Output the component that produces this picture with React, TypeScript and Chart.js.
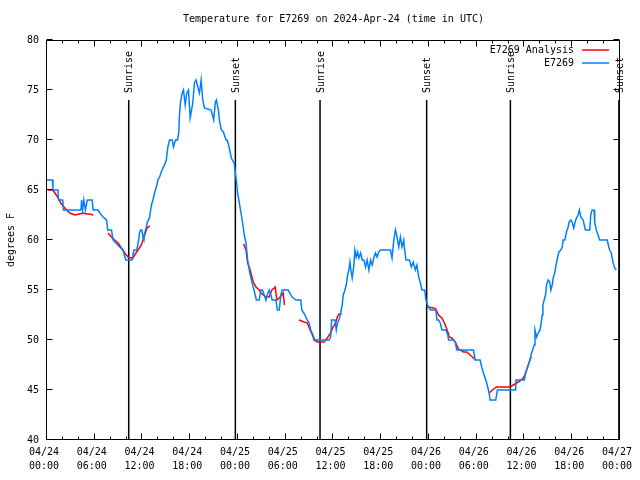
import { useEffect, useRef } from 'react';
import { Chart, registerables } from 'chart.js';

Chart.register(...registerables);

const TITLE = 'Temperature for E7269 on 2024-Apr-24 (time in UTC)';
const Y_TITLE = 'degrees F';
const SERIES_ANALYSIS = 'E7269 Analysis';
const SERIES_OBS = 'E7269';

// hours since 04/24 00:00 UTC
const hourTicks = [0, 6, 12, 18, 24, 30, 36, 42, 48, 54, 60, 66, 72];
const tickDates = ['04/24', '04/24', '04/24', '04/24', '04/25', '04/25', '04/25', '04/25', '04/26', '04/26', '04/26', '04/26', '04/27'];
const tickTimes = ['00:00', '06:00', '12:00', '18:00', '00:00', '06:00', '12:00', '18:00', '00:00', '06:00', '12:00', '18:00', '00:00'];
const tempTicks = [40, 45, 50, 55, 60, 65, 70, 75, 80];

const sunHours = [10.27, 23.67, 34.31, 47.71, 58.23, 71.87];
const sunLabels = ['Sunrise', 'Sunset', 'Sunrise', 'Sunset', 'Sunrise', 'Sunset'];

const blueHours = [
  0.0, 0.71, 0.75, 1.38, 1.44, 1.97, 2.07, 4.26, 4.35, 4.47, 4.63, 4.82, 5.07, 5.67, 5.8, 6.42, 6.64, 7.05, 7.48, 7.64,
  8.1, 8.3, 8.89, 9.14, 9.55, 9.89, 10.68, 10.93, 11.27, 11.36, 11.52, 11.65, 11.77, 11.93, 12.06, 12.18, 12.27, 12.4, 12.61, 12.77,
  12.9, 13.02, 13.19, 13.31, 13.52, 13.74, 13.94, 14.15, 14.36, 14.56, 14.78, 14.99, 15.19, 15.4, 15.74, 15.9, 16.15, 16.4, 16.57, 16.63,
  16.78, 16.99, 17.15, 17.37, 17.57, 17.78, 17.99, 18.32, 18.53, 18.74, 18.95, 19.16, 19.37, 19.57, 19.78, 20.62, 20.95, 21.16, 21.29, 21.54,
  21.66, 21.91, 22.16, 22.5, 22.66, 22.91, 23.13, 23.29, 23.54, 23.67, 23.83, 23.95, 24.17, 24.38, 24.58, 24.79, 25.01, 25.21, 25.42, 25.63,
  25.92, 26.26, 26.3, 26.67, 26.88, 27.08, 27.3, 27.51, 27.67, 27.92, 28.14, 28.3, 28.76, 28.96, 29.18, 29.39, 29.55, 30.3, 30.8, 31.27,
  31.89, 32.02, 32.43, 32.68, 32.93, 33.14, 33.31, 33.65, 35.44, 35.65, 35.77, 36.19, 36.35, 36.5, 36.69, 36.9, 37.1, 37.23, 37.44, 37.6,
  37.78, 37.94, 38.07, 38.19, 38.35, 38.57, 38.69, 38.86, 39.03, 39.19, 39.41, 39.61, 39.82, 40.03, 40.23, 40.45, 40.66, 40.86, 41.07, 41.28,
  41.48, 41.7, 41.91, 43.16, 43.36, 43.58, 43.79, 43.99, 44.2, 44.41, 44.62, 44.83, 44.95, 45.12, 45.54, 45.79, 46.02, 46.29, 46.49, 46.71,
  46.92, 47.12, 47.46, 47.62, 47.83, 48.17, 48.87, 49.0, 49.21, 49.42, 49.62, 50.12, 50.37, 50.46, 51.09, 51.3, 51.5, 53.59, 53.81, 54.43,
  54.63, 54.85, 55.06, 55.26, 55.47, 55.6, 55.68, 56.39, 56.6, 58.89, 58.94, 59.98, 60.14, 60.27, 60.48, 60.69, 60.82, 61.02, 61.23, 61.32,
  61.52, 61.73, 61.95, 62.07, 62.23, 62.32, 62.48, 62.65, 62.77, 62.98, 63.17, 63.32, 63.49, 63.61, 63.82, 64.02, 64.15, 64.32, 64.57, 64.74,
  64.86, 65.08, 65.28, 65.49, 65.61, 65.83, 65.99, 66.2, 66.37, 66.53, 66.74, 66.9, 67.08, 67.37, 67.66, 68.21, 68.33, 68.49, 68.74, 68.83,
  69.03, 69.25, 69.46, 70.41, 70.59, 70.71, 70.91, 71.12, 71.34, 71.54,
];
const blueTemps = [
  66, 66, 65, 65, 64, 64, 63, 63, 64, 63, 64, 63, 64, 64, 63, 63, 62.7, 62.3, 62, 61,
  61, 60, 59.5, 59.3, 59, 58, 58, 59, 59, 59.3, 60, 60.8, 61, 61, 60.3, 60, 60.7, 61, 61.8, 62,
  62.3, 63, 63.7, 64, 64.7, 65.3, 66, 66.3, 66.8, 67.2, 67.5, 68, 69.3, 70, 70, 69.3, 70, 70, 70.8, 72.3,
  73.8, 74.7, 75, 73.5, 74.7, 75, 72.2, 73.7, 75.7, 76, 75.3, 74.7, 76, 74, 73.2, 73, 72, 73.8, 74, 73,
  72, 71, 70.8, 70, 70, 69.2, 68.3, 68, 67.6, 66.7, 65.7, 64.7, 63.7, 62.7, 61.7, 60.5, 59.7, 58, 57, 56.2,
  55.3, 54.2, 54, 54, 55, 55, 54.5, 54, 54.5, 55, 54.5, 54, 54, 53, 53, 54.5, 55, 55, 54.3, 54,
  54, 53, 52.5, 52, 51.7, 51, 50.7, 50, 50, 50.3, 52, 52, 51, 51.7, 52, 52.7, 53.5, 54.5, 55, 55.5,
  56.5, 57, 57.8, 57, 56.2, 57.5, 59, 58.3, 58.8, 58.2, 58.7, 58, 58, 57.3, 58, 57, 58, 57.5, 58.2, 58.7,
  58.3, 58.8, 59, 59, 58.2, 60, 61, 60.3, 59.3, 60.3, 59.3, 60, 59, 58, 58, 57.3, 57.8, 57, 57.5, 56.3,
  55.7, 55, 55, 54, 53.5, 53, 53, 52, 52, 51.7, 51, 51, 50.5, 50, 50, 49.8, 49, 49, 48, 48,
  47.3, 46.7, 46.2, 45.7, 45, 44.5, 44, 44, 45, 45, 46, 46, 46.7, 47, 47.5, 48, 48.5, 49, 49.5, 51,
  50.3, 50.7, 51, 51.5, 52.5, 53.5, 54, 54.5, 55.5, 56, 55.8, 55, 55.5, 56.2, 56.8, 57.7, 58.2, 58.8, 59, 59.3,
  60, 60, 60.8, 61.3, 61.8, 62, 61.8, 61.2, 61.8, 62.2, 62.5, 63, 62.3, 62, 61, 61, 62.5, 63, 63, 61.7,
  61, 60.5, 60, 60, 59.3, 59, 58.7, 57.8, 57.2, 57,
];

// null entries mark gaps in the analysis series
const redHours = [
  0.13, 0.71, 1.0, 1.41, 1.72, 2.13, 2.47, 2.88, 3.51, 4.04, 4.55, 4.97, 5.38, 5.8, 6.7,
  7.68, 8.1, 8.51, 8.93, 9.35, 9.77, 10.18, 10.61, 10.81, 11.02, 11.43, 11.86, 12.06, 12.27, 12.48, 12.68, 12.9, 18.0,
  24.71, 25.01, 25.21, 25.42, 25.63, 25.92, 26.26, 26.67, 26.88, 27.51, 27.92, 28.26, 28.55, 28.67, 28.89, 29.18, 29.51, 29.68, 29.84, 30.8,
  31.68, 32.31, 32.72, 33.06, 33.35, 33.56, 33.97, 34.81, 35.22, 35.65, 35.94, 36.28, 36.48, 36.69, 37.03, 42.0,
  47.75, 48.58, 48.87, 49.21, 49.62, 50.05, 50.37, 50.55, 50.88, 51.3, 51.71, 52.34, 52.75, 53.18, 53.59, 53.88, 54.7,
  55.56, 55.97, 56.51, 57.56, 58.19, 58.6, 59.01, 59.44, 59.85, 60.07, 60.27, 60.48, 60.69, 60.86,
];
const redTemps = [
  65, 65, 64.7, 64.2, 63.7, 63.3, 63, 62.7, 62.5, 62.6, 62.7, 62.6, 62.6, 62.5, null,
  60.7, 60.3, 60, 59.7, 59.2, 58.7, 58.3, 58.2, 58.2, 58.5, 59, 59.5, 60, 60.5, 61, 61.3, 61.4, null,
  59.6, 59, 57.7, 57.3, 56.7, 55.8, 55.3, 55, 54.7, 54.3, 54.3, 55, 55.2, 55.3, 54, 54.2, 54.5, 54.7, 53.5, null,
  52, 51.8, 51.7, 51, 50.5, 50, 49.8, 49.8, 50.2, 50.7, 51.3, 51.7, 52.3, 52.6, 52.6, null,
  53.3, 53.2, 53.1, 52.5, 52.2, 51.5, 50.8, 50.3, 50.2, 49.8, 49.1, 48.8, 48.8, 48.5, 48.2, 48, null,
  44.7, 45, 45.3, 45.3, 45.3, 45.5, 45.7, 45.9, 46.2, 46.5, 47, 47.5, 48, 48.3,
];

const RED = '#ff0000';
const BLUE = '#0080ff';
const FONT_FAMILY = "'DejaVu Sans Mono', 'Liberation Mono', monospace";
const FONT_SIZE = 10;

export default function App() {
  const ref = useRef<HTMLCanvasElement>(null);

  useEffect(() => {
    document.body.style.margin = '0';
    const canvas = ref.current;
    if (!canvas) return;

    const blueData = blueHours.map((h, i) => ({ x: h, y: blueTemps[i] }));
    const redData = redHours.map((h, i) => ({ x: h, y: redTemps[i] }));

    const overlay = {
      id: 'overlay',
      beforeDraw(chart: any) {
        const c = chart.ctx;
        c.save();
        c.fillStyle = '#ffffff';
        c.fillRect(0, 0, chart.width, chart.height);
        c.restore();
      },
      beforeDatasetsDraw(chart: any) {
        const { ctx, chartArea: a, scales } = chart;
        const xs = scales.x;
        ctx.save();
        ctx.strokeStyle = '#000';
        ctx.lineWidth = 1.5;
        sunHours.forEach((h) => {
          const px = xs.getPixelForValue(h);
          ctx.beginPath();
          ctx.moveTo(px, a.top + 60);
          ctx.lineTo(px, a.bottom);
          ctx.stroke();
        });
        ctx.restore();
      },
      afterDatasetsDraw(chart: any) {
        const { ctx, chartArea: a, scales } = chart;
        const xs = scales.x;
        const ys = scales.y;
        const font = `${FONT_SIZE}px ${FONT_FAMILY}`;
        ctx.save();
        // border
        ctx.strokeStyle = '#000';
        ctx.lineWidth = 1;
        const L = Math.round(a.left) - 0.5;
        const R = Math.round(a.right) - 0.5;
        const T = Math.round(a.top) + 0.5;
        const B = Math.round(a.bottom) - 0.5;
        ctx.strokeRect(L, T, R - L, B - T);
        // y ticks (inward, both sides)
        ctx.beginPath();
        tempTicks.forEach((v) => {
          const py = Math.round(ys.getPixelForValue(v)) - 0.5;
          ctx.moveTo(L, py);
          ctx.lineTo(L + 6, py);
          ctx.moveTo(R, py);
          ctx.lineTo(R - 6, py);
        });
        // x ticks, major every 6h, minor every 2h
        for (let h = 0; h <= 72; h += 2) {
          const px = Math.round(xs.getPixelForValue(h)) - 0.5;
          const len = h % 6 === 0 ? 6 : 3;
          ctx.moveTo(px, B);
          ctx.lineTo(px, B - len);
          ctx.moveTo(px, T);
          ctx.lineTo(px, T + len);
        }
        ctx.stroke();

        ctx.fillStyle = '#000';
        ctx.font = font;
        // sunrise / sunset labels
        sunHours.forEach((h, i) => {
          const px = xs.getPixelForValue(h);
          ctx.save();
          ctx.translate(px + 1, a.top + 53);
          ctx.rotate(-Math.PI / 2);
          ctx.textAlign = 'left';
          ctx.textBaseline = 'middle';
          ctx.fillText(sunLabels[i], 0, 0);
          ctx.restore();
        });

        // legend
        ctx.textAlign = 'right';
        ctx.textBaseline = 'middle';
        ctx.fillText(SERIES_ANALYSIS, 574, 50);
        ctx.fillText(SERIES_OBS, 574, 63);
        ctx.lineWidth = 1.5;
        ctx.strokeStyle = RED;
        ctx.beginPath();
        ctx.moveTo(582, 50);
        ctx.lineTo(609, 50);
        ctx.stroke();
        ctx.strokeStyle = BLUE;
        ctx.beginPath();
        ctx.moveTo(582, 63);
        ctx.lineTo(609, 63);
        ctx.stroke();

        // title
        ctx.textAlign = 'center';
        ctx.fillText(TITLE, (a.left + a.right) / 2, 19);

        // y axis title
        ctx.save();
        ctx.translate(11, (a.top + a.bottom) / 2);
        ctx.rotate(-Math.PI / 2);
        ctx.textAlign = 'center';
        ctx.textBaseline = 'middle';
        ctx.fillText(Y_TITLE, 0, 0);
        ctx.restore();

        ctx.restore();
      },
    };

    const chart = new Chart(canvas, {
      type: 'line',
      data: {
        datasets: [
          {
            label: SERIES_OBS,
            data: blueData as any,
            borderColor: BLUE,
            borderWidth: 1.5,
            pointRadius: 0,
            tension: 0,
            order: 0,
          },
          {
            label: SERIES_ANALYSIS,
            data: redData as any,
            borderColor: RED,
            borderWidth: 1.5,
            pointRadius: 0,
            tension: 0,
            spanGaps: false,
            order: 1,
          },
        ],
      },
      options: {
        responsive: false,
        animation: false,
        devicePixelRatio: 1,
        layout: { padding: { top: 40, right: 18, left: 0, bottom: 0 } },
        plugins: {
          legend: { display: false },
          title: { display: false },
          tooltip: { enabled: false },
        },
        scales: {
          x: {
            type: 'linear',
            min: 0,
            max: 72,
            afterBuildTicks: (scale: any) => {
              scale.ticks = hourTicks.map((v) => ({ value: v }));
            },
            afterFit: (scale: any) => {
              scale.height = 40;
            },
            grid: { display: false, drawTicks: false },
            border: { display: false },
            ticks: {
              autoSkip: false,
              maxRotation: 0,
              padding: 5,
              labelOffset: -3,
              color: '#000',
              font: { family: FONT_FAMILY, size: FONT_SIZE, lineHeight: '14.5px' } as any,
              callback: (value: any) => {
                const i = hourTicks.indexOf(Number(value));
                return i >= 0 ? [tickDates[i], tickTimes[i]] : '';
              },
            },
          },
          y: {
            type: 'linear',
            min: 40,
            max: 80,
            afterBuildTicks: (scale: any) => {
              scale.ticks = tempTicks.map((v) => ({ value: v }));
            },
            afterFit: (scale: any) => {
              scale.width = 47;
            },
            grid: { display: false, drawTicks: false },
            border: { display: false },
            ticks: {
              padding: 8,
              color: '#000',
              font: { family: FONT_FAMILY, size: FONT_SIZE },
            },
          },
        },
      },
      plugins: [overlay],
    });

    return () => chart.destroy();
  }, []);

  return (
    <div style={{ position: 'absolute', left: 0, top: 0, width: 640, height: 480 }}>
      <canvas ref={ref} width={640} height={480} style={{ width: 640, height: 480, display: 'block' }} />
    </div>
  );
}
